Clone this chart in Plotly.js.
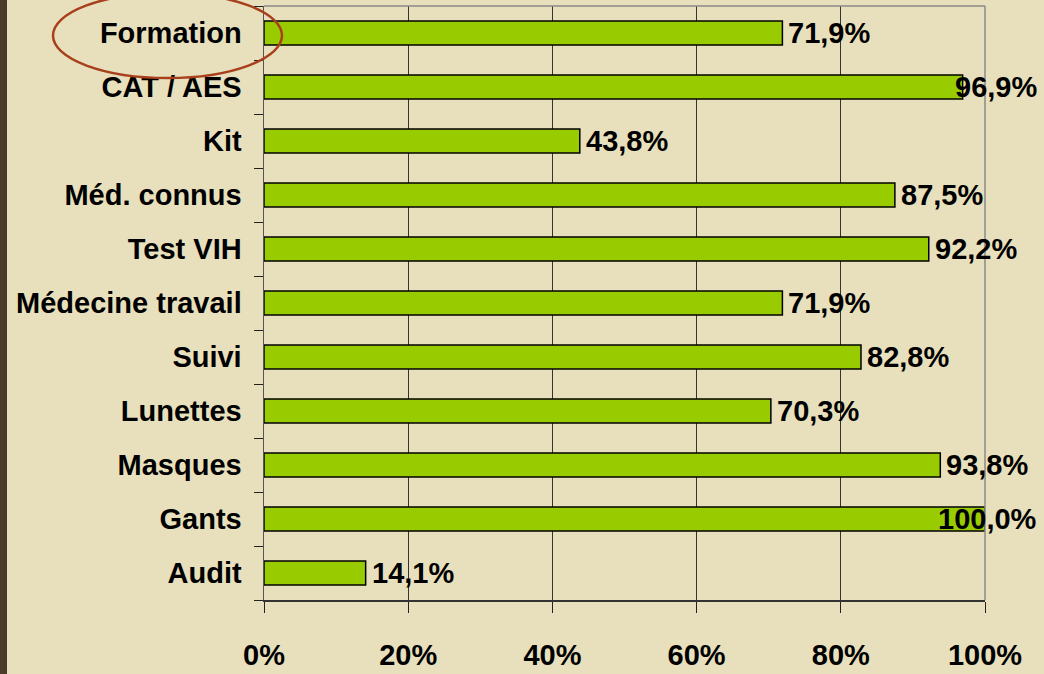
<!DOCTYPE html>
<html>
<head>
<meta charset="utf-8">
<script src="https://cdn.plot.ly/plotly-3.0.1.min.js"></script>
<style>
  html, body { margin: 0; padding: 0; background: #E8E0BD; }
  #chart { width: 1044px; height: 674px; }
</style>
</head>
<body>
<div id="chart"></div>
<script>
const categories = ["Formation", "CAT / AES", "Kit", "Méd. connus", "Test VIH", "Médecine travail", "Suivi", "Lunettes", "Masques", "Gants", "Audit"];
const values = [71.9, 96.9, 43.8, 87.5, 92.2, 71.9, 82.8, 70.3, 93.8, 100.0, 14.1];
const valueLabels = ["71,9%", "96,9%", "43,8%", "87,5%", "92,2%", "71,9%", "82,8%", "70,3%", "93,8%", "100,0%", "14,1%"];
const xTickVals = [0, 20, 40, 60, 80, 100];
const xTickText = ["0%", "20%", "40%", "60%", "80%", "100%"];

const FONT = '"Liberation Sans", Arial, sans-serif';
const FS = 29;
const W = 1044, H = 674;
const margin = {l: 264, r: 59, t: 6, b: 74};
const plotW = W - margin.l - margin.r;
const plotH = H - margin.t - margin.b;
const px2paperX = p => (p - margin.l) / plotW;
const px2paperY = p => (H - margin.b - p) / plotH;

const trace = {
  type: 'bar',
  orientation: 'h',
  y: categories,
  x: values,
  marker: {color: '#99CC00', line: {color: '#000000', width: 1.5}},
  hoverinfo: 'none'
};

// value labels, kept inside the slide's right edge like the original
const rightLimitPx = 1039;
const annotations = values.map((v, i) => {
  const endPx = margin.l + v / 100 * plotW;
  const estW = valueLabels[i].length * 16;
  const fits = endPx + 6 + estW <= rightLimitPx;
  const base = {
    y: categories[i], yref: 'y',
    text: '<b>' + valueLabels[i] + '</b>',
    showarrow: false,
    font: {family: FONT, size: FS, color: '#000000'},
    yanchor: 'middle'
  };
  if (fits) {
    return Object.assign(base, {x: v, xref: 'x', xanchor: 'left', xshift: 4});
  }
  return Object.assign(base, {x: px2paperX(rightLimitPx), xref: 'paper', xanchor: 'right'});
});

const layout = {
  width: W, height: H,
  margin: margin,
  paper_bgcolor: '#E8E0BD',
  plot_bgcolor: 'rgba(0,0,0,0)',
  showlegend: false,
  bargap: 0.56,
  font: {family: FONT, size: FS, color: '#000000'},
  xaxis: {
    range: [0, 100],
    tickvals: xTickVals,
    ticktext: xTickText.map(t => '<b>' + t + '</b>'),
    ticks: 'outside', ticklen: 11, tickwidth: 1, tickcolor: '#222222',
    showgrid: true, gridcolor: '#333333', gridwidth: 1,
    showline: true, linecolor: '#333333', linewidth: 1.5,
    zeroline: false,
    ticklabelstandoff: 18,
    tickfont: {family: FONT, size: FS, color: '#000000'},
    fixedrange: true
  },
  yaxis: {
    type: 'category',
    autorange: 'reversed',
    tickvals: categories,
    ticktext: categories.map(c => '<b>' + c + '</b>'),
    ticks: 'outside', tickson: 'boundaries', ticklen: 9, tickwidth: 1, tickcolor: '#222222',
    showgrid: false,
    showline: true, linecolor: '#555555', linewidth: 1.5,
    zeroline: false,
    ticklabelstandoff: 15,
    tickfont: {family: FONT, size: FS, color: '#000000'},
    fixedrange: true
  },
  shapes: [
    {type: 'line', xref: 'paper', yref: 'paper', x0: 0, x1: 1, y0: 1, y1: 1, line: {color: '#8A8A8A', width: 1.5}},
    {type: 'line', xref: 'paper', yref: 'paper', x0: 1, x1: 1, y0: 0, y1: 1, line: {color: '#8A8A8A', width: 1.5}},
    {type: 'rect', xref: 'paper', yref: 'paper', x0: px2paperX(0), x1: px2paperX(7), y0: px2paperY(H), y1: px2paperY(0),
     fillcolor: '#4A3B2A', line: {width: 0}, layer: 'above'},
    {type: 'circle', xref: 'paper', yref: 'paper', x0: px2paperX(53), x1: px2paperX(282), y0: px2paperY(78), y1: px2paperY(-7),
     line: {color: '#A8401C', width: 2.5}, fillcolor: 'rgba(0,0,0,0)', layer: 'above'}
  ],
  annotations: annotations
};

Plotly.newPlot('chart', [trace], layout, {displayModeBar: false, staticPlot: true});
</script>
</body>
</html>
